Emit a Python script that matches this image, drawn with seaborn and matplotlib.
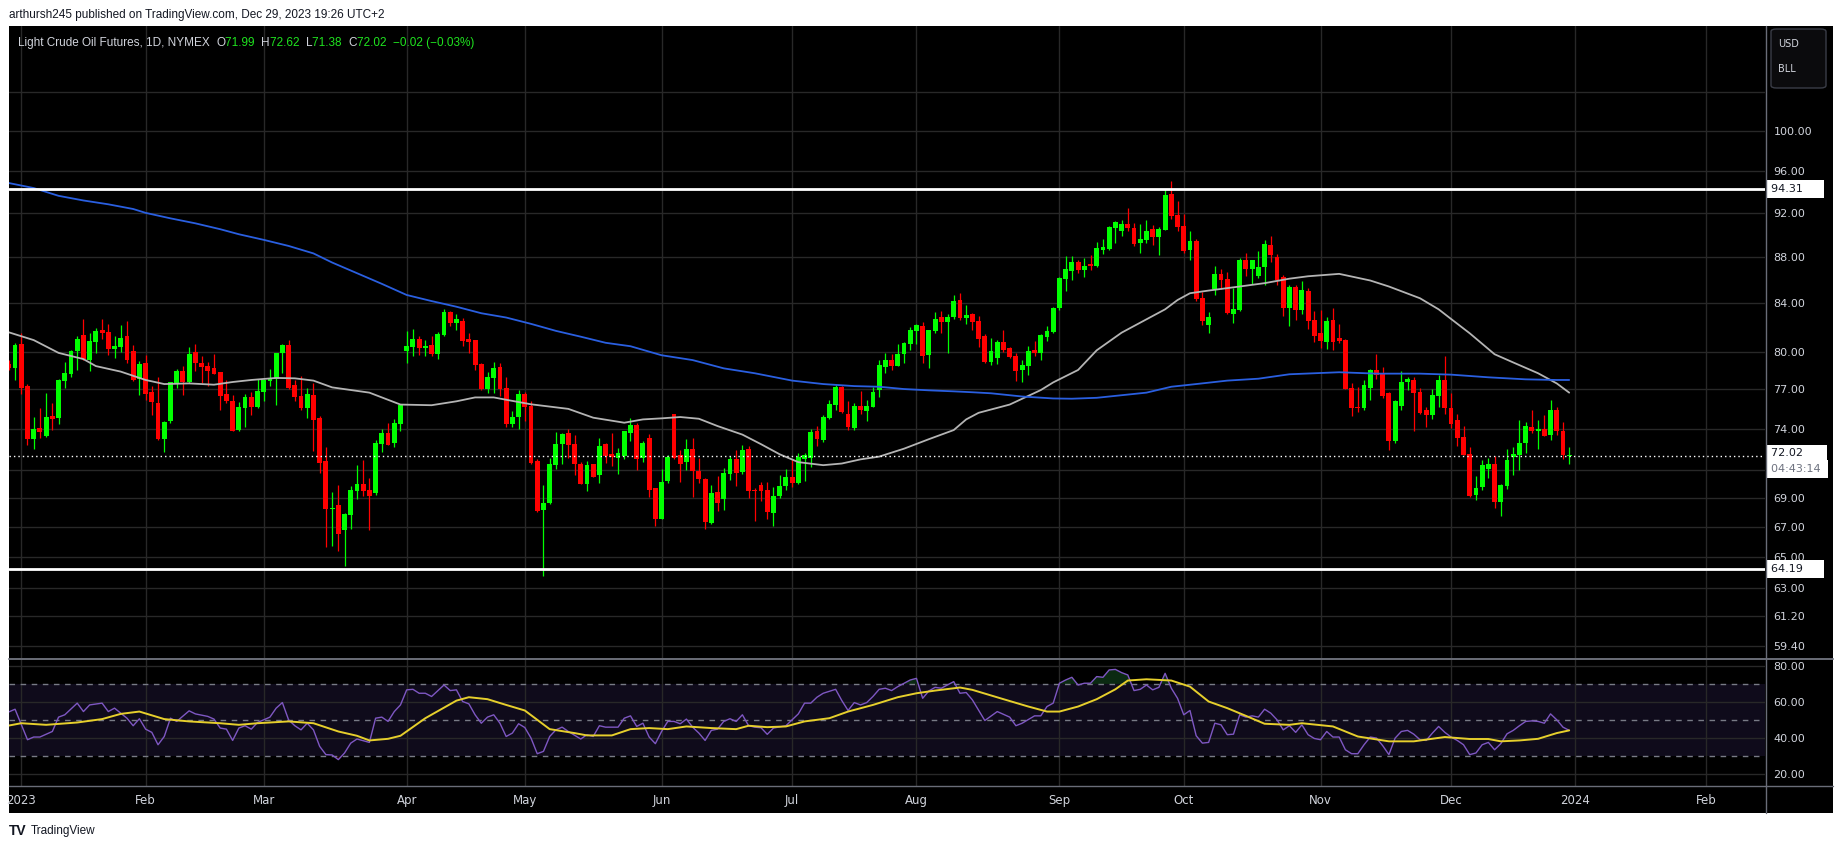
import matplotlib
matplotlib.use("Agg")
import numpy as np
import pandas as pd
import matplotlib.pyplot as plt
import seaborn as sns
from matplotlib.patches import Rectangle, FancyBboxPatch
from matplotlib.lines import Line2D
from matplotlib.ticker import FixedLocator, FixedFormatter, NullLocator

# ---------------- data (daily bars, index 0 = first session of 2023) ----------------
first_bar = -2
opens = [
    79.00, 78.71, 80.61, 77.26, 73.26, 74.03, 73.46, 74.93, 74.80, 77.69,
    78.24, 80.06, 81.36, 79.32, 80.81, 81.78, 81.58, 80.19, 80.36, 81.28,
    80.03, 77.82, 79.08, 76.80, 75.98, 73.22, 74.55, 77.42, 78.45, 77.58,
    79.95, 79.11, 78.84, 78.69, 78.37, 76.65, 76.13, 73.88, 75.55, 76.43,
    75.68, 76.83, 77.66, 77.82, 79.87, 80.53, 77.34, 76.50, 75.60, 76.58,
    74.78, 71.59, 68.20, 68.47, 66.82, 67.79, 69.47, 69.94, 69.52, 69.35,
    72.85, 73.65, 72.92, 74.33, 80.03, 80.39, 81.03, 80.31, 80.53, 79.82,
    81.36, 83.28, 82.36, 82.52, 81.03, 80.94, 79.00, 77.03, 77.90, 78.77,
    77.10, 74.33, 74.85, 76.65, 75.75, 71.59, 68.15, 68.61, 71.30, 72.85,
    73.65, 72.85, 71.44, 70.00, 71.37, 70.58, 72.85, 72.11, 71.84, 71.99,
    73.70, 74.25, 71.84, 73.29, 69.66, 67.53, 70.17, 75.08, 72.03, 71.54,
    72.48, 70.93, 70.32, 67.26, 69.38, 68.89, 70.72, 71.76, 70.86, 72.48,
    69.52, 69.87, 69.52, 67.95, 69.16, 69.82, 70.44, 70.08, 71.74, 71.84,
    73.85, 73.14, 74.78, 75.83, 77.18, 75.08, 74.08, 75.75, 75.30, 75.68,
    76.95, 78.79, 79.32, 78.84, 79.79, 80.61, 81.70, 82.11, 79.71, 81.70,
    82.86, 82.44, 82.86, 84.29, 82.78, 83.11, 82.52, 81.28, 79.16, 79.47,
    80.78, 80.28, 79.63, 78.53, 78.84, 80.11, 79.87, 81.20, 81.61, 83.61,
    86.13, 86.77, 87.59, 86.86, 87.41, 87.23, 88.67, 88.76, 90.67, 90.40,
    91.01, 90.67, 89.30, 89.58, 90.58, 89.85, 90.49, 93.86, 91.85, 90.85,
    88.67, 89.52, 84.47, 82.19, 85.25, 86.58, 86.13, 83.11, 83.44, 87.77,
    87.00, 86.40, 87.14, 89.12, 88.03, 86.31, 83.61, 85.42, 83.44, 85.07,
    82.61, 81.53, 80.78, 82.61, 81.11, 80.94, 77.10, 75.68, 75.53, 77.10,
    78.53, 78.21, 76.73, 73.07, 75.75, 77.58, 77.74, 76.80, 75.38, 75.00,
    76.50, 77.74, 75.60, 74.63, 73.36, 72.11, 69.23, 69.73, 71.07, 71.44,
    68.68, 69.80, 71.89, 72.03, 72.92, 74.10, 73.80, 73.95, 73.51, 75.38,
    73.80, 71.99]
highs = [
    79.30, 80.67, 81.50, 77.39, 74.90, 75.53, 76.70, 75.95, 77.82, 79.13,
    80.11, 81.28, 82.69, 81.50, 81.94, 82.69, 82.27, 81.28, 82.19, 82.52,
    80.50, 79.24, 79.71, 77.26, 77.97, 74.55, 77.58, 78.61, 78.84, 80.34,
    80.61, 79.63, 79.16, 79.79, 78.40, 77.74, 76.58, 76.05, 76.65, 76.80,
    77.82, 77.82, 78.61, 79.90, 80.64, 80.94, 77.74, 78.05, 77.10, 77.50,
    74.93, 72.65, 69.40, 69.87, 67.97, 69.82, 71.30, 71.66, 70.37, 73.14,
    73.95, 74.40, 74.70, 75.78, 81.70, 81.86, 81.28, 80.94, 81.28, 81.61,
    83.50, 83.39, 83.11, 82.78, 81.53, 80.94, 79.11, 78.37, 79.16, 79.08,
    77.97, 75.30, 76.95, 76.80, 76.13, 71.74, 69.87, 71.81, 73.73, 73.70,
    73.95, 73.51, 71.52, 71.59, 71.44, 73.29, 72.97, 73.65, 72.55, 73.80,
    74.78, 74.40, 73.07, 73.58, 69.70, 71.07, 72.06, 75.08, 72.40, 73.22,
    73.29, 71.81, 70.39, 69.87, 70.53, 71.15, 71.99, 72.40, 72.77, 72.72,
    69.66, 70.15, 70.15, 69.73, 70.65, 71.07, 71.74, 72.23, 72.18, 73.95,
    74.18, 75.00, 76.20, 77.31, 77.26, 76.13, 75.95, 76.88, 76.20, 77.18,
    79.32, 79.87, 79.79, 80.61, 80.78, 82.03, 82.27, 82.44, 81.78, 83.28,
    83.36, 83.11, 84.73, 84.91, 83.86, 83.20, 82.94, 81.44, 81.11, 80.94,
    81.78, 80.36, 79.87, 79.32, 80.44, 80.86, 81.44, 82.11, 83.69, 86.30,
    88.11, 88.11, 87.77, 87.95, 88.20, 89.42, 89.70, 90.85, 91.29, 91.38,
    92.51, 91.11, 91.01, 91.38, 90.94, 90.76, 94.24, 95.10, 93.18, 91.94,
    90.40, 89.70, 85.00, 83.28, 87.23, 86.95, 86.67, 85.32, 87.95, 88.39,
    87.77, 88.58, 89.58, 89.94, 88.30, 86.49, 85.60, 85.60, 85.94, 85.33,
    83.36, 83.44, 82.86, 83.61, 82.27, 81.03, 77.50, 77.18, 77.74, 78.61,
    79.79, 78.77, 76.80, 76.20, 78.45, 77.97, 77.97, 77.10, 75.68, 77.03,
    78.13, 79.63, 76.73, 75.08, 74.18, 72.62, 70.51, 71.66, 71.81, 71.96,
    69.94, 72.48, 72.62, 74.63, 74.48, 75.38, 74.63, 75.00, 76.20, 75.68,
    74.48, 72.62]
lows = [
    78.50, 77.74, 76.63, 72.77, 72.52, 73.34, 73.40, 73.90, 74.33, 77.13,
    78.00, 78.53, 79.32, 78.48, 79.90, 81.00, 79.69, 79.47, 79.95, 79.11,
    77.69, 76.58, 76.20, 75.03, 73.14, 72.28, 74.40, 77.10, 76.53, 77.50,
    78.48, 77.50, 77.29, 78.20, 75.40, 75.93, 73.80, 73.85, 74.10, 75.00,
    75.60, 76.13, 77.26, 75.83, 78.32, 77.00, 76.13, 75.45, 74.78, 72.33,
    70.79, 65.63, 65.71, 65.38, 64.42, 66.89, 68.89, 69.16, 66.82, 69.18,
    72.28, 72.77, 72.67, 73.83, 79.05, 79.66, 79.71, 79.66, 79.66, 79.42,
    81.31, 82.14, 81.78, 80.47, 79.87, 78.53, 76.95, 76.73, 76.73, 76.48,
    74.10, 74.10, 73.95, 74.55, 71.44, 68.00, 63.73, 68.54, 71.07, 71.37,
    71.81, 70.65, 69.94, 69.45, 70.44, 70.08, 71.49, 71.25, 70.72, 71.74,
    73.10, 71.00, 71.52, 69.07, 67.05, 67.53, 70.03, 71.79, 70.15, 71.00,
    69.05, 70.06, 66.84, 67.19, 68.09, 68.15, 70.25, 69.82, 70.72, 68.98,
    67.40, 68.77, 67.53, 67.05, 68.98, 69.52, 69.73, 69.94, 70.22, 71.22,
    72.70, 73.02, 74.70, 75.38, 75.15, 73.88, 73.88, 75.08, 74.55, 75.68,
    76.43, 78.32, 78.53, 78.84, 79.11, 80.11, 80.61, 79.11, 78.71, 81.53,
    81.53, 79.87, 82.69, 82.61, 82.27, 81.78, 80.36, 79.08, 78.92, 79.00,
    79.95, 79.47, 77.66, 77.58, 78.11, 79.63, 79.32, 80.86, 81.53, 83.44,
    85.07, 86.04, 86.60, 86.31, 86.86, 87.14, 88.30, 88.67, 89.33, 89.94,
    90.40, 89.03, 88.39, 89.30, 89.12, 88.20, 90.49, 91.49, 90.40, 88.39,
    87.77, 84.20, 82.19, 81.53, 84.73, 85.25, 83.11, 82.36, 83.36, 86.40,
    85.68, 86.22, 85.60, 87.59, 85.54, 82.94, 82.14, 82.61, 83.11, 81.86,
    80.78, 80.28, 80.19, 80.11, 80.69, 77.03, 74.93, 75.23, 75.38, 76.20,
    77.82, 76.35, 72.40, 72.92, 75.45, 76.95, 73.80, 75.08, 74.10, 74.70,
    75.68, 75.08, 74.03, 72.70, 72.03, 69.09, 68.82, 69.52, 70.37, 68.27,
    67.72, 69.59, 70.65, 71.00, 72.18, 73.65, 72.48, 73.44, 73.14, 73.51,
    71.74, 71.38]
closes = [
    78.70, 80.53, 77.13, 73.26, 73.95, 73.75, 74.90, 74.73, 77.74, 78.29,
    80.03, 81.03, 79.40, 80.86, 81.70, 81.55, 80.19, 80.44, 81.11, 79.34,
    77.74, 79.00, 76.68, 76.00, 73.22, 74.48, 77.58, 78.45, 77.61, 79.82,
    79.11, 78.77, 78.45, 78.24, 76.50, 76.13, 73.83, 75.68, 76.43, 75.68,
    76.88, 77.74, 77.90, 79.87, 80.53, 77.10, 76.45, 75.53, 76.65, 74.65,
    71.47, 68.20, 68.29, 66.49, 67.85, 69.52, 69.94, 69.47, 69.16, 72.92,
    73.65, 72.77, 74.40, 75.78, 80.44, 81.03, 80.33, 80.44, 79.82, 81.44,
    83.28, 82.36, 82.69, 80.86, 80.78, 78.92, 77.03, 77.97, 78.69, 77.03,
    74.33, 74.85, 76.65, 75.68, 71.49, 68.06, 68.61, 71.37, 72.85, 73.58,
    72.77, 71.37, 70.00, 71.30, 70.50, 72.70, 71.99, 71.94, 72.18, 73.80,
    74.25, 71.74, 72.92, 69.54, 67.53, 70.13, 71.89, 71.86, 71.37, 72.48,
    70.88, 70.32, 67.32, 69.33, 68.66, 70.79, 71.76, 70.79, 72.40, 69.45,
    69.45, 69.45, 68.02, 69.16, 69.82, 70.44, 70.08, 71.89, 72.03, 73.73,
    73.22, 74.85, 75.90, 77.18, 75.23, 74.10, 75.75, 75.38, 75.75, 76.80,
    78.92, 79.32, 78.84, 79.79, 80.69, 81.78, 82.19, 79.66, 81.78, 82.69,
    82.44, 82.86, 84.20, 82.78, 83.03, 82.44, 81.03, 79.16, 80.03, 80.78,
    80.11, 79.55, 78.45, 78.92, 80.03, 79.87, 81.36, 81.70, 83.61, 86.22,
    86.95, 87.59, 86.86, 87.23, 87.23, 88.85, 88.94, 90.76, 91.20, 91.01,
    90.67, 89.21, 89.67, 90.40, 89.85, 90.58, 93.76, 91.76, 90.76, 88.58,
    89.52, 84.38, 82.52, 82.86, 86.58, 86.04, 83.19, 83.53, 87.77, 87.00,
    87.77, 87.14, 89.21, 88.20, 86.04, 83.61, 85.42, 83.44, 85.16, 82.52,
    81.28, 80.86, 82.52, 80.78, 80.86, 77.03, 75.53, 75.60, 77.34, 78.53,
    78.13, 76.50, 73.07, 76.13, 77.58, 77.82, 76.73, 75.15, 75.00, 76.58,
    77.74, 75.60, 74.33, 73.29, 72.03, 69.16, 69.66, 71.30, 71.44, 68.68,
    69.87, 71.66, 72.11, 72.92, 74.18, 73.80, 73.95, 73.44, 75.45, 73.80,
    72.03, 72.02]

# grey moving average (read at bar positions)
ma_grey_idx = [-2, 2, 6, 10, 12, 16, 20, 23, 27, 31, 34, 37, 41, 44, 47, 50, 56, 61, 66, 70,
               73, 76, 78, 82, 88, 92, 97, 100, 103, 106, 109, 112, 116, 119, 122, 125, 129,
               132, 135, 138, 142, 146, 150, 152, 154, 159, 164, 166, 170, 173, 177, 181, 184,
               186, 188, 191, 196, 200, 204, 207, 212, 217, 220, 225, 228, 230, 233, 237, 240,
               244, 247, 249]
ma_grey_val = [81.58, 80.94, 79.90, 79.40, 78.84, 78.40, 77.74, 77.42, 77.47, 77.37, 77.58,
               77.74, 77.90, 77.87, 77.69, 77.16, 76.75, 75.83, 75.78, 76.08, 76.38, 76.38,
               76.20, 75.85, 75.50, 74.83, 74.45, 74.70, 74.78, 74.88, 74.75, 74.20, 73.56,
               72.85, 72.11, 71.54, 71.32, 71.44, 71.74, 71.94, 72.52, 73.22, 73.90, 74.70,
               75.20, 75.83, 76.95, 77.55, 78.53, 80.11, 81.55, 82.66, 83.50, 84.29, 84.87,
               85.10, 85.45, 85.74, 86.13, 86.34, 86.55, 85.97, 85.45, 84.44, 83.50, 82.69,
               81.50, 79.79, 79.13, 78.27, 77.47, 76.75]
# blue moving average
ma_blue_idx = [-2, 2, 6, 10, 14, 18, 20, 24, 28, 32, 35, 39, 43, 47, 50, 54, 58, 62, 66, 70,
               74, 78, 82, 86, 90, 94, 98, 101, 103, 108, 113, 118, 124, 129, 134, 138, 142,
               146, 150, 153, 156, 161, 166, 169, 173, 177, 181, 185, 189, 194, 199, 204, 208,
               212, 218, 225, 230, 236, 242, 247, 249]
ma_blue_val = [94.88, 94.40, 93.66, 93.22, 92.86, 92.42, 92.06, 91.55, 91.09, 90.55, 90.09,
               89.58, 89.03, 88.36, 87.55, 86.61, 85.68, 84.72, 84.20, 83.72, 83.17, 82.81,
               82.28, 81.70, 81.22, 80.72, 80.44, 80.00, 79.71, 79.32, 78.66, 78.27, 77.69,
               77.42, 77.26, 77.21, 77.03, 76.93, 76.85, 76.78, 76.70, 76.45, 76.30, 76.28,
               76.35, 76.55, 76.75, 77.21, 77.42, 77.69, 77.84, 78.19, 78.27, 78.35, 78.24,
               78.24, 78.16, 77.95, 77.79, 77.74, 77.74]

# RSI (purple) and its moving average (yellow)
rsi_idx = [-2, -1, 1, 2, 3, 5, 6, 7, 9, 10, 11, 13, 14, 15, 17, 18, 19, 20, 21, 22, 23, 24, 25,
           27, 28, 30, 31, 32, 33, 34, 35, 36, 37, 38, 40, 41, 42, 43, 44, 45, 46, 47, 48, 49,
           50, 51, 52, 53, 54, 56, 57, 58, 59, 60, 61, 62, 63, 64, 65, 66, 68, 69, 70, 71, 72,
           73, 74, 75, 76, 77, 78, 79, 80, 81, 82, 83, 84, 85, 86, 87, 88, 90, 91, 92, 93, 94,
           96, 97, 98, 99, 100, 101, 102, 103, 104, 105, 106, 107, 108, 109, 110, 111, 112,
           113, 114, 115, 116, 117, 118, 119, 120, 121, 123, 124, 125, 126, 127, 128, 129, 131,
           132, 133, 134, 135, 136, 137, 138, 139, 140, 141, 143, 144, 145, 146, 147, 148, 150,
           151, 152, 153, 155, 157, 159, 160, 161, 163, 164, 165, 166, 167, 168, 169, 170, 171,
           172, 173, 174, 175, 176, 177, 178, 179, 180, 181, 182, 183, 184, 185, 186, 187, 188,
           189, 190, 191, 192, 193, 194, 195, 196, 197, 198, 199, 200, 201, 202, 203, 204, 205,
           206, 207, 208, 209, 210, 211, 212, 213, 214, 215, 216, 217, 218, 219, 220, 221, 222,
           223, 224, 225, 226, 227, 228, 229, 230, 231, 232, 233, 234, 235, 236, 237, 238, 239,
           240, 241, 242, 243, 244, 245, 246, 247, 248, 249]
rsi_val = [54.4, 55.9, 38.9, 40.4, 40.4, 43.5, 51.5, 52.8, 59.3, 54.6, 58.3, 59.3, 54.6, 56.5,
           50.9, 46.7, 50.6, 44.8, 43.0, 36.1, 40.7, 50.9, 49.1, 55.0, 53.3, 51.9, 50.4, 45.4,
           44.8, 38.5, 45.4, 46.7, 44.8, 48.5, 51.5, 56.5, 59.6, 50.0, 46.7, 44.4, 48.1, 44.4,
           35.2, 30.6, 30.4, 27.8, 31.5, 37.0, 39.3, 37.4, 50.9, 51.5, 49.1, 54.6, 58.3, 66.7,
           67.0, 64.8, 64.8, 63.0, 69.4, 66.3, 66.7, 60.2, 58.9, 52.8, 48.1, 51.5, 52.8, 48.1,
           40.7, 42.6, 47.8, 45.7, 39.8, 31.1, 32.4, 40.7, 44.4, 45.9, 43.5, 39.3, 41.7, 40.7,
           46.7, 45.9, 45.9, 50.9, 52.2, 46.3, 48.1, 40.4, 36.7, 43.5, 49.1, 49.1, 47.8, 50.4,
           45.9, 42.6, 38.5, 44.1, 44.8, 49.1, 50.6, 49.1, 52.8, 46.7, 45.9, 45.6, 41.9, 45.4,
           46.7, 50.0, 53.3, 59.3, 59.3, 62.6, 64.8, 67.0, 60.7, 55.2, 59.6, 58.3, 59.6, 63.0,
           67.0, 67.6, 66.3, 68.5, 72.2, 73.1, 62.0, 66.1, 68.1, 67.6, 71.3, 64.8, 65.2, 61.1,
           49.6, 54.6, 51.5, 46.7, 48.1, 52.2, 52.2, 57.4, 59.3, 70.4, 72.2, 73.7, 69.4, 70.4,
           70.4, 74.1, 73.7, 77.8, 78.1, 76.3, 75.0, 66.3, 67.0, 69.4, 66.7, 68.1, 75.9, 67.6,
           62.0, 52.8, 55.2, 41.1, 37.0, 37.4, 48.1, 47.2, 41.7, 42.0, 52.8, 51.5, 52.2, 51.5,
           55.9, 53.7, 50.0, 44.4, 46.7, 43.0, 47.2, 41.7, 39.6, 38.9, 43.5, 40.4, 40.4, 33.3,
           31.1, 31.1, 36.1, 40.4, 39.8, 35.6, 30.6, 39.8, 43.5, 44.1, 42.0, 38.9, 38.5, 42.6,
           46.3, 43.0, 40.4, 38.5, 36.1, 30.6, 31.5, 36.1, 37.4, 33.3, 36.7, 42.2, 44.1, 46.7,
           49.1, 49.4, 49.1, 48.1, 53.3, 50.0, 45.9, 44.1]
rsi_ma_idx = [-2, 0, 4, 9, 13, 16, 19, 23, 27, 32, 35, 38, 43, 47, 51, 54, 56, 59, 61, 65, 70,
              72, 75, 78, 81, 83, 85, 89, 91, 95, 98, 101, 104, 107, 111, 115, 117, 120, 123,
              126, 130, 133, 137, 141, 144, 147, 151, 153, 158, 162, 165, 167, 170, 173, 176,
              178, 181, 185, 188, 191, 194, 197, 200, 204, 206, 211, 215, 220, 224, 229, 233,
              236, 238, 241, 244, 247, 249]
rsi_ma_val = [46.8, 48.1, 47.2, 48.5, 50.4, 53.3, 54.6, 50.4, 49.1, 48.1, 47.2, 48.1, 49.1,
              48.1, 43.5, 41.1, 38.5, 39.4, 41.1, 50.9, 60.7, 62.6, 61.5, 58.3, 55.2, 50.0,
              44.8, 42.6, 41.3, 41.3, 44.8, 45.4, 44.8, 46.3, 45.4, 44.8, 46.7, 45.9, 46.3,
              49.1, 50.9, 54.6, 58.3, 62.6, 64.8, 66.3, 68.0, 66.7, 61.5, 57.4, 54.6, 54.6,
              57.4, 61.5, 67.0, 71.9, 72.6, 71.9, 68.5, 60.2, 56.5, 52.2, 47.8, 47.2, 48.1,
              46.3, 40.7, 38.0, 38.0, 40.4, 39.3, 39.3, 38.0, 38.5, 39.4, 42.6, 44.1]

# axis texts
month_idx = [0, 20, 39, 62, 81, 103, 124, 144, 167, 187, 209, 230, 250, 271]
month_lbl = ['2023', 'Feb', 'Mar', 'Apr', 'May', 'Jun', 'Jul', 'Aug', 'Sep', 'Oct', 'Nov',
             'Dec', '2024', 'Feb']
price_ticks = [59.4, 61.2, 63, 65, 67, 69, 71, 74, 77, 80, 84, 88, 92, 96, 100, 104]
price_lbls = ['59.40', '61.20', '63.00', '65.00', '67.00', '69.00', '', '74.00', '77.00',
              '80.00', '84.00', '88.00', '92.00', '96.00', '100.00', '']
rsi_ticks = [20, 40, 60, 80]
rsi_lbls = ['20.00', '40.00', '60.00', '80.00']
level_hi, level_lo = 94.31, 64.19
last_price = 72.02
countdown = '04:43:14'
header = 'arthursh245 published on TradingView.com, Dec 29, 2023 19:26 UTC+2'
symbol = 'Light Crude Oil Futures, 1D, NYMEX'
ohlc_txt = [('O', '71.99'), ('H', '72.62'), ('L', '71.38'), ('C', '72.02')]
change_txt = '\u22120.02 (\u22120.03%)'

# ---------------- styling ----------------
sns.set_theme(style="dark")
plt.rcParams['font.family'] = ['DejaVu Sans']
TXT = '#d1d4dc'
GRID = '#282828'
SEP = '#6a6d78'
GREEN = '#00ff00'
RED = '#ff0000'
LEG_GREEN = '#1fe41f'

W, H = 1835, 849
fig = plt.figure(figsize=(W / 100, H / 100), dpi=100, facecolor='white')


def fx(p):
    return p / W


def fy(p):
    return 1 - p / H


fig.add_artist(Rectangle((fx(9), fy(813)), (1833 - 9) / W, (813 - 25.7) / H,
                         transform=fig.transFigure, facecolor='black', edgecolor='none',
                         zorder=-1))

L, R = 9.4, 1765
ax = fig.add_axes([fx(L), fy(658), (R - L) / W, (658 - 25.7) / H])
ax2 = fig.add_axes([fx(L), fy(786), (R - L) / W, (786 - 659) / H], sharex=ax)
for a in (ax, ax2):
    a.set_facecolor('black')
    for s in a.spines.values():
        s.set_visible(False)

# ---------------- price pane ----------------
df = pd.DataFrame({'idx': np.arange(first_bar, first_bar + len(closes)),
                   'open': opens, 'high': highs, 'low': lows, 'close': closes})
up = df['close'] >= df['open']
cols = np.where(up, GREEN, RED)
ax.set_yscale('log')
ax.vlines(df['idx'], df['low'], df['high'], colors=cols, linewidth=0.9, zorder=3)
body = np.maximum((df['close'] - df['open']).abs(), 0.08)
ax.bar(df['idx'], body, bottom=np.minimum(df['open'], df['close']), width=0.78,
       color=cols, linewidth=0, zorder=4)

sns.lineplot(x=ma_grey_idx, y=ma_grey_val, ax=ax, color='#b4b4b4', linewidth=1.3, zorder=5)
sns.lineplot(x=ma_blue_idx, y=ma_blue_val, ax=ax, color='#2a5fe0', linewidth=1.3, zorder=5)

ax.axhline(level_hi, color='white', linewidth=2, zorder=6)
ax.axhline(level_lo, color='white', linewidth=2, zorder=6)
ax.axhline(last_price, color='white', linewidth=1, linestyle=(0, (1, 2.2)), zorder=6)

ax.set_ylim(58.68, 111.25)
ax.set_xlim(-1.91, 280.5)
ax.yaxis.set_major_locator(FixedLocator(price_ticks))
ax.yaxis.set_minor_locator(NullLocator())
ax.yaxis.set_major_formatter(FixedFormatter(price_lbls))
ax.yaxis.tick_right()
ax.tick_params(axis='y', which='both', length=0, pad=6, labelsize=8, labelcolor=TXT)
ax.set_axisbelow(True)
ax.grid(True, color=GRID, linewidth=1)
ax.set_xlabel('')
ax.set_ylabel('')


def tag(axis, val, text, dy=0, fc='white', tc='#131722', fs=8):
    axis.annotate(text, xy=(1, val), xycoords=('axes fraction', 'data'), xytext=(4, dy),
                  textcoords='offset points', ha='left', va='center', fontsize=fs, color=tc,
                  bbox=dict(boxstyle='square,pad=0.35', fc=fc, ec='none'),
                  annotation_clip=False, zorder=10)


tag(ax, level_hi, f'{level_hi:.2f}     ')
tag(ax, level_lo, f'{level_lo:.2f}     ')
# last price tag with the countdown stacked right below it
tag(ax, last_price, f'{last_price:.2f}      ', dy=1.5)
tag(ax, last_price, countdown + ' ', dy=-9.5, tc='#6f7380')

# ---------------- RSI pane ----------------
rsi_x = np.array(rsi_idx, dtype=float)
rsi_y = np.array(rsi_val)
ax2.axhspan(30, 70, color='#0f0b1b', zorder=0.3, linewidth=0)
ax2.fill_between(rsi_x, rsi_y, 70, where=rsi_y >= 70, interpolate=True, color='#0b2a12',
                 linewidth=0, zorder=1)
ax2.fill_between(rsi_x, rsi_y, 30, where=rsi_y <= 30, interpolate=True, color='#2a0b0b',
                 linewidth=0, zorder=1)
for lv in (70, 50, 30):
    ax2.axhline(lv, color='#787b86', linewidth=1, linestyle=(0, (4, 4)), zorder=1.5)
sns.lineplot(x=rsi_idx, y=rsi_val, ax=ax2, color='#7e57c2', linewidth=1.0, zorder=3)
sns.lineplot(x=rsi_ma_idx, y=rsi_ma_val, ax=ax2, color='#e6cf2c', linewidth=1.4, zorder=4)
ax2.set_ylim(13.1, 83.9)
ax2.yaxis.set_major_locator(FixedLocator(rsi_ticks))
ax2.yaxis.set_major_formatter(FixedFormatter(rsi_lbls))
ax2.yaxis.tick_right()
ax2.tick_params(axis='y', length=0, pad=6, labelsize=8, labelcolor=TXT)
ax2.set_axisbelow(True)
ax2.grid(True, color=GRID, linewidth=1)
ax2.set_xlabel('')
ax2.set_ylabel('')

# shared time axis
ax2.set_xlim(-1.91, 280.5)
ax2.xaxis.set_major_locator(FixedLocator(month_idx))
ax2.xaxis.set_major_formatter(FixedFormatter(month_lbl))
ax.tick_params(axis='x', length=0, labelbottom=False)
ax2.tick_params(axis='x', length=0, pad=6, labelsize=8.5, labelcolor=TXT)

# ---------------- separators ----------------
fig.add_artist(Line2D([fx(1765.5), fx(1765.5)], [fy(25.7), fy(813)], transform=fig.transFigure,
                      color=SEP, linewidth=1, zorder=3))
fig.add_artist(Line2D([fx(9), fx(1833)], [fy(658.6), fy(658.6)], transform=fig.transFigure,
                      color=SEP, linewidth=1.4, zorder=3))
fig.add_artist(Line2D([fx(9), fx(1833)], [fy(786), fy(786)], transform=fig.transFigure,
                      color=SEP, linewidth=1, zorder=3))

# currency box
fig.add_artist(FancyBboxPatch((fx(1771), fy(88)), (1826 - 1771) / W, (88 - 29) / H,
                              boxstyle='round,pad=0,rounding_size=0.003',
                              transform=fig.transFigure, facecolor='#0b0b0d',
                              edgecolor='#3a3d47', linewidth=1, zorder=5))
fig.text(fx(1778), fy(44), 'USD', fontsize=7, color=TXT, va='center', ha='left', zorder=6)
fig.text(fx(1778), fy(69), 'BLL', fontsize=7, color=TXT, va='center', ha='left', zorder=6)

# ---------------- header / legend / footer ----------------
FONT = ['Liberation Sans', 'DejaVu Sans']
fig.text(fx(9), fy(15), header, fontsize=8.5, color='#131722', va='center', ha='left',
         family=FONT)

renderer = fig.canvas.get_renderer()
parts = [(symbol + '  ', TXT)]
for k, v in ohlc_txt:
    parts.append((k, TXT))
    parts.append((v + '  ', LEG_GREEN))
parts.append((change_txt, LEG_GREEN))
xpos = 18
for s, c in parts:
    t = fig.text(fx(xpos), fy(43), s, fontsize=8.5, color=c, va='center', ha='left',
                 family=FONT, zorder=6)
    xpos += t.get_window_extent(renderer).width

fig.text(fx(9), fy(831), 'TV', fontsize=10, fontweight='heavy', color='#131722',
         va='center', ha='left', family=FONT)
fig.text(fx(31), fy(831), 'TradingView', fontsize=8.5, color='#131722', va='center',
         ha='left', family=FONT)

fig.savefig('out.png', dpi=100, facecolor='white')
